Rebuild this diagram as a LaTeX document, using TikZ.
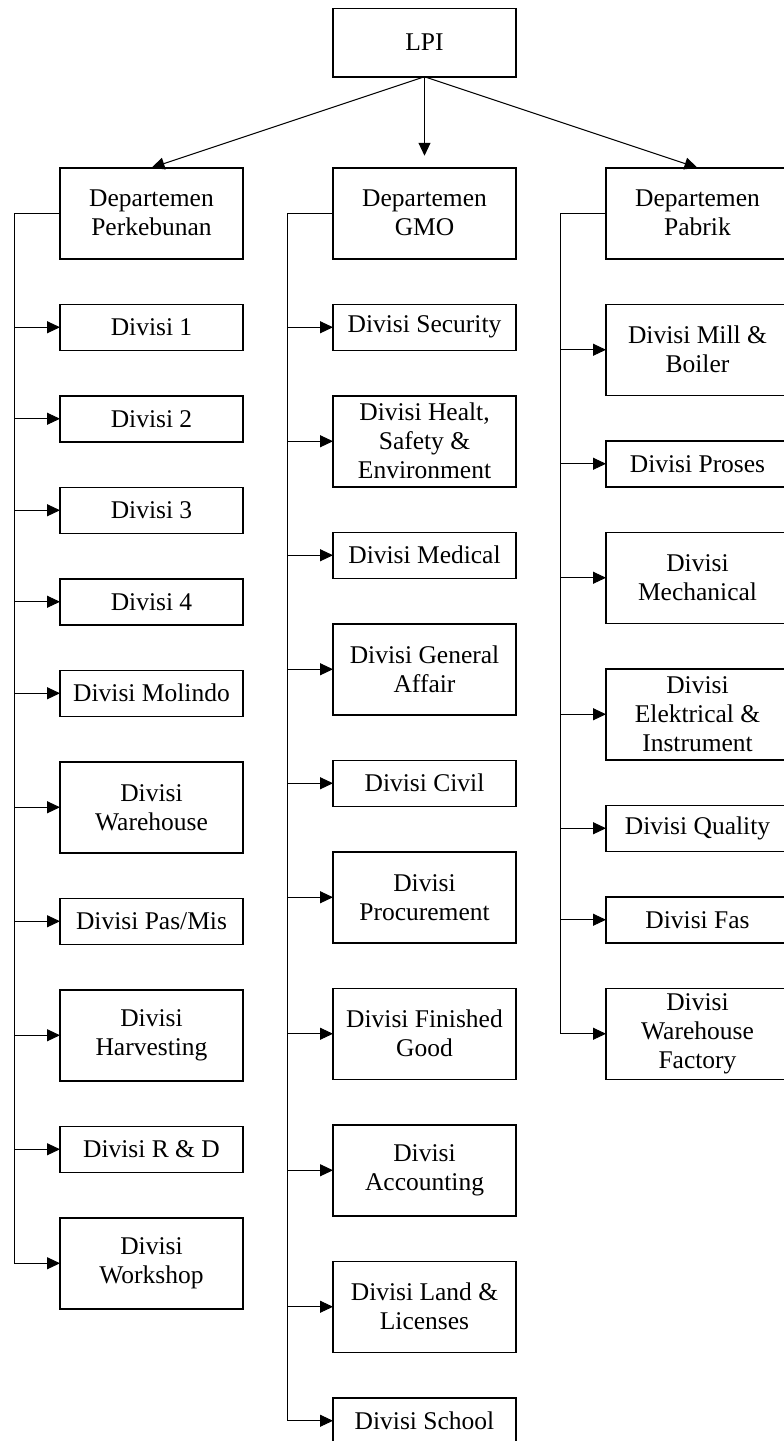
\documentclass[tikz,border=0pt]{standalone}
\usepackage{fontspec}
\setmainfont{Liberation Serif}
\usetikzlibrary{positioning, arrows.meta}
\tikzstyle{every node}=[font=\fontsize{12.75}{14.5}\selectfont]
\tikzstyle{block} = [rectangle, draw, line width=0.75pt, align=center, minimum width=91.5pt, minimum height=23pt, inner sep=1pt, outer sep=0pt, node distance=22.75pt]
\tikzstyle{bigblock} = [block, minimum height=45.5pt]
\tikzstyle{line} = [draw, line width=0.5pt, -{Triangle[length=6.5pt,width=6pt]}]
\tikzstyle{link} = [draw, line width=0.5pt]

\begin{document}
\begin{tikzpicture}
    \useasboundingbox (0,0) rectangle (391.5pt,-720.5pt);
    % Place nodes
    \node [block, minimum height=34.25pt] (lpi) at (212.25pt,-21.25pt) {LPI};
    \node [bigblock, below=45.5pt of lpi] (gmo) {Departemen\\GMO};
    \node [bigblock, left=45pt of gmo] (kebun) {Departemen\\Perkebunan};
    \node [bigblock, right=45pt of gmo] (pabrik) {Departemen\\Pabrik};
    % Perkebunan
    \node [block, below=of kebun] (k1) {Divisi 1};
    \node [block, below=of k1] (k2) {Divisi 2};
    \node [block, below=of k2] (k3) {Divisi 3};
    \node [block, below=of k3] (k4) {Divisi 4};
    \node [block, below=of k4] (molindo) {Divisi Molindo};
    \node [bigblock, below=of molindo] (kwarehouse) {Divisi\\Warehouse};
    \node [block, below=of kwarehouse] (pasmis) {Divisi Pas/Mis};
    \node [bigblock, below=of pasmis] (harvest) {Divisi\\Harvesting};
    \node [block, below=of harvest] (rnd) {Divisi R \& D};
    \node [bigblock, below=of rnd] (workshop) {Divisi\\Workshop};
    % GMO
    \node [block, below=of gmo] (security) {Divisi Security};
    \node [bigblock, below=of security] (hse) {Divisi Healt,\\Safety \&\\Environment};
    \node [block, below=of hse] (medical) {Divisi Medical};
    \node [bigblock, below=of medical] (affair) {Divisi General\\Affair};
    \node [block, below=of affair] (civil) {Divisi Civil};
    \node [bigblock, below=of civil] (procure) {Divisi\\Procurement};
    \node [bigblock, below=of procure] (finished) {Divisi Finished\\Good};
    \node [bigblock, below=of finished] (account) {Divisi\\Accounting};
    \node [bigblock, below=of account] (land) {Divisi Land \&\\Licenses};
    \node [block, below=of land] (school) {Divisi School};
    % Pabrik
    \node [bigblock, below=of pabrik] (mill) {Divisi Mill \&\\Boiler};
    \node [block, below=of mill] (proses) {Divisi Proses};
    \node [bigblock, below=of proses] (mech) {Divisi\\Mechanical};
    \node [bigblock, below=of mech] (elek) {Divisi\\Elektrical \&\\Instrument};
    \node [block, below=of elek] (quality) {Divisi Quality};
    \node [block, below=of quality] (fas) {Divisi Fas};
    \node [bigblock, below=of fas] (pwarehouse) {Divisi\\Warehouse\\Factory};
    % Draw edges
    \path [line] (lpi.south) -- (kebun.north);
    \path [line, shorten >=6pt] (lpi) -- (gmo);
    \path [line] (lpi.south) -- (pabrik.north);
    % Perkebunan spine
    \coordinate (kspine) at ([xshift=-23pt]kebun.west);
    \path [link] (kebun.west) -- (kspine);
    \path [line] (kspine) |- (k1.west);
    \path [line] (kspine) |- (k2.west);
    \path [line] (kspine) |- (k3.west);
    \path [line] (kspine) |- (k4.west);
    \path [line] (kspine) |- (molindo.west);
    \path [line] (kspine) |- (kwarehouse.west);
    \path [line] (kspine) |- (pasmis.west);
    \path [line] (kspine) |- (harvest.west);
    \path [line] (kspine) |- (rnd.west);
    \path [line] (kspine) |- (workshop.west);
    % GMO spine
    \coordinate (gspine) at ([xshift=-23pt]gmo.west);
    \path [link] (gmo.west) -- (gspine);
    \path [line] (gspine) |- (security.west);
    \path [line] (gspine) |- (hse.west);
    \path [line] (gspine) |- (medical.west);
    \path [line] (gspine) |- (affair.west);
    \path [line] (gspine) |- (civil.west);
    \path [line] (gspine) |- (procure.west);
    \path [line] (gspine) |- (finished.west);
    \path [line] (gspine) |- (account.west);
    \path [line] (gspine) |- (land.west);
    \path [line] (gspine) |- (school.west);
    % Pabrik spine
    \coordinate (pspine) at ([xshift=-23pt]pabrik.west);
    \path [link] (pabrik.west) -- (pspine);
    \path [line] (pspine) |- (mill.west);
    \path [line] (pspine) |- (proses.west);
    \path [line] (pspine) |- (mech.west);
    \path [line] (pspine) |- (elek.west);
    \path [line] (pspine) |- (quality.west);
    \path [line] (pspine) |- (fas.west);
    \path [line] (pspine) |- (pwarehouse.west);
\end{tikzpicture}
\end{document}
